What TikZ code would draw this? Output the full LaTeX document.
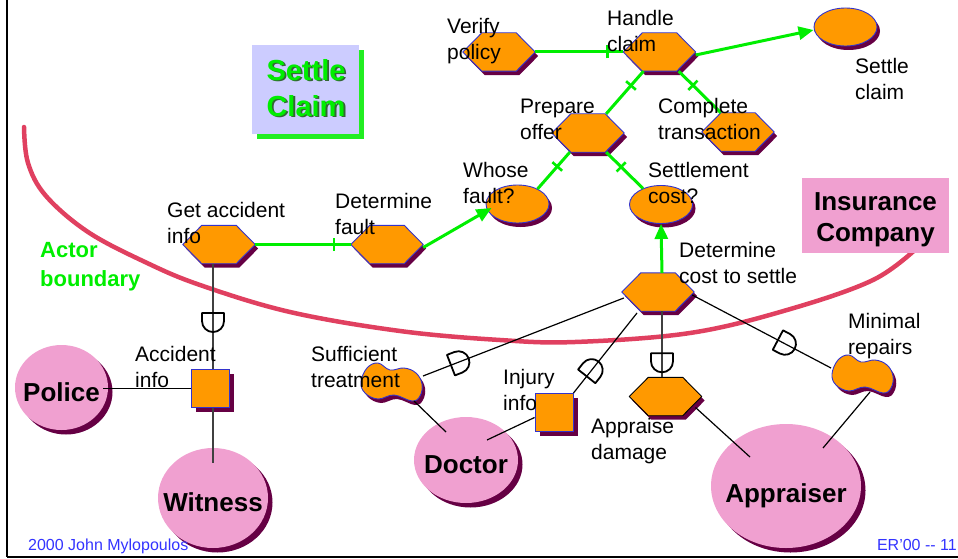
\documentclass[tikz,border=0pt]{standalone}
\usepackage{fontspec}
\setmainfont{Liberation Sans}
\usetikzlibrary{arrows.meta,calc,shapes.geometric,shadows,decorations.markings}

\definecolor{goalfill}{HTML}{FF9900}
\definecolor{goalline}{HTML}{3333CC}
\definecolor{shade}{HTML}{660044}
\definecolor{actorfill}{HTML}{F0A0D0}
\definecolor{linkgreen}{HTML}{00EE00}
\definecolor{boxgreen}{HTML}{22EE22}
\definecolor{boundary}{HTML}{E04060}
\definecolor{lavender}{HTML}{CCCCFF}
\definecolor{footblue}{HTML}{3333FF}
\definecolor{titleshade}{HTML}{336633}
\definecolor{deepgray}{HTML}{404040}

\tikzset{
  shd/.style={drop shadow={shadow xshift=3pt, shadow yshift=-4pt, fill=shade, opacity=1}},
  shdbig/.style={drop shadow={shadow xshift=4.5pt, shadow yshift=-4.5pt, fill=shade, opacity=1}},
  hexbox/.style={rectangle, minimum width=72pt, minimum height=38pt, inner sep=0pt},
  goalell/.style={ellipse, minimum width=63pt, minimum height=38pt, inner sep=0pt,
    fill=goalfill, draw=goalline, line width=0.9pt, shd},
  softbox/.style={ellipse, minimum width=62pt, minimum height=38pt, inner sep=0pt},
  resource/.style={rectangle, minimum size=38pt, inner sep=0pt, fill=goalfill,
    draw=goalline, line width=0.9pt, shdbig},
  actor/.style={ellipse, inner sep=0pt, fill=actorfill, shdbig},
  actorname/.style={font=\bfseries\fontsize{26}{31}\selectfont, inner sep=0pt,
    text height=27pt, text depth=0pt},
  lbl/.style={font=\fontsize{21}{26}\selectfont, inner sep=0pt, anchor=north west, align=left},
  greenlink/.style={draw=linkgreen, line width=3pt},
  means/.style={greenlink, -{Triangle[length=15pt,width=13pt]}},
  dep/.style={draw=black, line width=1.2pt},
  depv/.style={draw=deepgray, line width=2pt},
  dstroke/.style={black, line width=1.8pt, line join=round},
  tick at/.style={postaction={decorate, decoration={markings,
    mark=at position #1 with {\draw[linkgreen, line width=2.6pt] (0pt,-6.5pt) -- (0pt,6.5pt);}}}},
  % D with its round side facing the end of the path
  dsym at/.style={postaction={decorate, decoration={markings,
    mark=at position #1 with {\draw[dstroke]
      (-8pt,-11pt) -- (-8pt,11pt) -- (0pt,11pt) arc[start angle=90, end angle=-90, radius=11pt] -- cycle;}}}},
  % D with its round side facing the start of the path
  dsymback at/.style={postaction={decorate, decoration={markings,
    mark=at position #1 with {\draw[dstroke]
      (8pt,-11pt) -- (8pt,11pt) -- (0pt,11pt) arc[start angle=90, end angle=270, radius=11pt] -- cycle;}}}},
}

% task (hexagon) with its shadow
\newcommand\hexgoal[4][goalline]{%
  \node[hexbox] (#2) at (#3,#4) {};
  \filldraw[fill=goalfill, draw=#1, line width=0.9pt, line join=round, shd]
    (#2.west) -- ($(#2.north west)+(19,0)$) -- ($(#2.north east)+(-19,0)$) -- (#2.east)
    -- ($(#2.south east)+(-19,0)$) -- ($(#2.south west)+(19,0)$) -- cycle;
}
% softgoal (cloud blob)
\newcommand\softgoal[3]{%
  \node[softbox] (#1) at (#2,#3) {};
  \begin{scope}[shift={(#2,#3)}]
    \filldraw[fill=goalfill, draw=goalline, line width=0.9pt, shd]
      plot[smooth cycle, tension=0.65] coordinates {(-31,0) (-25,-14) (-14,-19) (-2,-12)
        (12,-14) (24,-9) (30,2) (28,14) (20,19) (2,13) (-14,17) (-27,11)};
  \end{scope}
}
% label: name, left x, first baseline, text
\newcommand\lab[4]{\node[lbl] (#1) at (#2,#3-18.2) {\strut #4};}

\begin{document}
\begin{tikzpicture}[x=1pt, y=-1pt]
\useasboundingbox (0,0) rectangle (958,559);

% frame
\draw[line width=2.3pt] (7,0) -- (7,557);
\draw[line width=1.8pt] (7,557) -- (958,557);

% actor boundary
\draw[draw=boundary, line width=4.5pt, line cap=round]
  plot[smooth, tension=0.6] coordinates {(24,127) (28,163) (46,196) (88,232) (145,262)
    (200,285) (290,312) (400,331) (500,340) (575,342) (690,333) (787,310) (873,280) (918,247)};

% tasks
\hexgoal{verify}{499}{52}
\hexgoal{handle}{659.5}{52}
\hexgoal{prep}{588}{133}
\hexgoal{complete}{738}{132}
\hexgoal{getinfo}{219}{244.5}
\hexgoal{detfault}{387}{244.5}
\hexgoal{detcost}{658}{292}
\hexgoal[black]{apprdmg}{665.5}{396.5}

% goals
\node[goalell] (settle) at (845.5,27) {};
\node[goalell] (whose) at (517.5,204) {};
\node[goalell] (setcost) at (661,204.5) {};

% softgoals
\softgoal{suff}{392}{382}
\softgoal{minrep}{863}{374}

% resources
\node[resource] (accinfo) at (210,388.5) {};
\node[resource] (injinfo) at (554,412.5) {};

% actors
\node[actor, minimum width=93pt, minimum height=85pt, label={[actorname]center:Police}] (police) at (61.5,387.5) {};
\node[actor, minimum width=110pt, minimum height=100pt, label={[actorname]center:Witness}] (witness) at (213,498) {};
\node[actor, minimum width=104pt, minimum height=86pt, label={[actorname]center:Doctor}] (doctor) at (466,460) {};
\node[actor, minimum width=150pt, minimum height=124pt, label={[actorname, yshift=-3pt]center:Appraiser}] (appraiser) at (786,486) {};

% decomposition links
\draw[greenlink, tick at=-16pt] (verify.east) -- (handle.west);
\draw[greenlink, tick at=-17pt] (getinfo.east) -- (detfault.west);
\draw[greenlink, tick at=19pt] ($(handle.south)+(-16,0)$) -- ($(prep.north east)+(-18,0)$);
\draw[greenlink, tick at=20pt] ($(handle.south east)+(-17,0)$) -- ($(complete.north west)+(19,0)$);
\draw[greenlink, tick at=19pt] ($(prep.south west)+(18,0)$) -- ($(whose.center)+(20,-15)$);
\draw[greenlink, tick at=21pt] ($(prep.south east)+(-18,0)$) -- ($(setcost.center)+(-18,-16)$);

% means-ends links
\draw[means] ($(handle.east)+(0,3)$) -- ($(settle.west)+(0,3)$);
\draw[means] ($(detfault.east)+(0,3)$) -- ($(whose.center)+(-26,4)$);
\draw[means] ($(detcost.north)+(4,0)$) -- (setcost.south);

% dependencies
\draw[depv, dsym at=-48pt] ($(getinfo.south)+(-6,0)$) -- ($(accinfo.north)+(3,0)$);
\draw[depv] ($(accinfo.south)+(3,0)$) -- ($(witness.north)+(0,15)$);
\draw[dep] ($(police.east)+(-5,1)$) -- (accinfo.west);
\draw[dep, dsymback at=-38pt] ($(detcost.west)+(2,6)$) -- ($(suff.center)+(31,-6)$);
\draw[dep, dsymback at=-29pt] ($(detcost.center)+(-21,21)$) -- (injinfo.north east);
\draw[depv, dsym at=-16pt] ($(detcost.south)+(4,0)$) -- ($(apprdmg.north)+(-3.5,0)$);
\draw[dep, dsym at=-52pt] ($(detcost.east)+(-2,3)$) -- ($(minrep.center)+(-32,-6)$);
\draw[dep] ($(suff.center)+(22,19)$) -- ($(doctor.center)+(-20,-28)$);
\draw[dep] ($(injinfo.west)+(0,5)$) -- ($(doctor.center)+(21,-20)$);
\draw[dep] ($(apprdmg.center)+(30,11)$) -- ($(appraiser.center)+(-36,-29)$);
\draw[dep] ($(minrep.center)+(7,18)$) -- ($(appraiser.center)+(37,-38)$);

% element labels
\lab{lverify}{447}{33}{Verify\\policy}
\lab{lhandle}{607}{25}{Handle\\claim}
\lab{lsettle}{855}{73}{Settle\\claim}
\lab{lprep}{520}{113}{Prepare\\offer}
\lab{lcomplete}{658}{113}{Complete\\transaction}
\lab{lwhose}{463}{177}{Whose\\fault?}
\lab{lsetcost}{648}{177}{Settlement\\cost?}
\lab{lgetinfo}{167}{217}{Get accident\\info}
\lab{ldetfault}{335}{208}{Determine\\fault}
\lab{ldetcost}{679}{257}{Determine\\cost to settle}
\lab{laccinfo}{135}{361}{Accident\\info}
\lab{lsuff}{311}{361}{Sufficient\\treatment}
\lab{linjinfo}{503}{384}{Injury\\info}
\lab{lapprdmg}{591}{433}{Appraise\\damage}
\lab{lminrep}{848}{328}{Minimal\\repairs}

% title box
\node[fill=lavender, minimum width=107pt, minimum height=89pt, inner sep=0pt, anchor=north west,
  drop shadow={shadow xshift=5pt, shadow yshift=-5pt, fill=boxgreen, opacity=1}] (settlebox) at (252,45) {};
\node[font=\bfseries\fontsize{29}{36}\selectfont, text=titleshade, inner sep=0pt, anchor=north, align=center]
  (titleshadow) at (307.8,56.6) {\strut Settle\\Claim};
\node[font=\bfseries\fontsize{29}{36}\selectfont, text=linkgreen, inner sep=0pt, anchor=north, align=center]
  (title) at (306,54.8) {\strut Settle\\Claim};

% actor boundary caption
\node[font=\bfseries\fontsize{22}{29}\selectfont, text=linkgreen, inner sep=0pt, anchor=north west, align=left]
  (boundarytext) at (40,236.7) {\strut Actor\\boundary};

% insurance company box
\node[fill=actorfill, minimum width=147pt, minimum height=75pt, inner sep=0pt, anchor=north west] (insbox) at (802,178) {};
\node[font=\bfseries\fontsize{26}{31}\selectfont, inner sep=0pt, anchor=north, align=center]
  (instext) at (875.5,188.9) {\strut Insurance\\Company};

% footer
\node[font=\fontsize{16}{19}\selectfont, text=footblue, inner sep=0pt, anchor=base west] (footleft) at (28,550) {2000 John Mylopoulos};
\node[font=\fontsize{16}{19}\selectfont, text=footblue, inner sep=0pt, anchor=base east] (footright) at (957,550) {ER’00 -{}- 11};
\end{tikzpicture}
\end{document}
